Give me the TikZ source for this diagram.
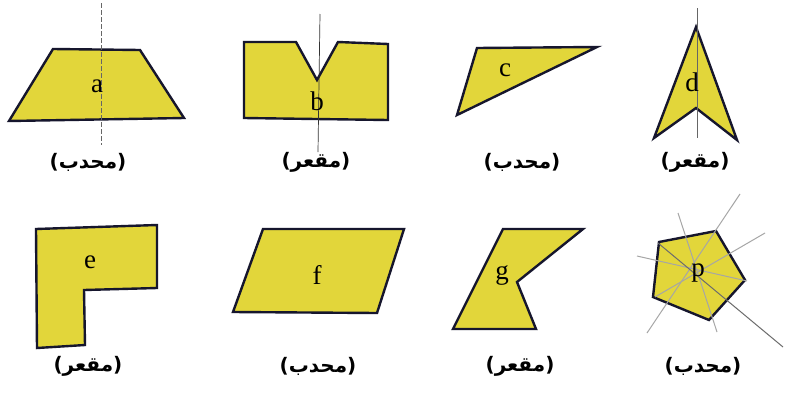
\documentclass[tikz,border=0pt]{standalone}
\usepackage{fontspec}
\TeXXeTstate=1
\newfontfamily\arabicfont[Script=Arabic]{DejaVu Sans}
\newfontfamily\letterfont{Liberation Serif}
\begin{document}
\begin{tikzpicture}[x=1pt,y=-1pt,
  shp/.style={fill=shapeyellow,draw=outline,line width=2.4pt,line join=miter},
  letter/.style={font=\letterfont\fontsize{27}{29}\selectfont},
  lbl/.style={font=\arabicfont\bfseries\fontsize{20}{22}\selectfont},
  axis/.style={draw=gray!80!black,line width=0.7pt},
  ray/.style={draw=gray!70,line width=1pt}]
\definecolor{shapeyellow}{RGB}{226,214,58}
\definecolor{outline}{RGB}{22,22,45}
\useasboundingbox (0,0) rectangle (787,394);
\fill[white] (0,0) rectangle (787,394);
% a
\draw[shp] (53,49) -- (140,50) -- (184,118) -- (9,121) -- cycle;
\draw[axis,dashed,dash pattern=on 5pt off 2pt] (101,3) -- (101,145);
\node[letter] (la) at (97,86) {a};
% b
\draw[shp] (244,42) -- (296,42) -- (317,80) -- (338,42) -- (388,44) -- (388,120) -- (244,118) -- cycle;
\draw[axis,draw=black!80] (320,14) -- (318,152);
\node[letter] (lb) at (317,101) {b};
% c
\draw[shp] (477,48) -- (597,47) -- (457,115) -- cycle;
\node[letter] (lc) at (505,70) {c};
% d
\draw[shp] (696,27) -- (737,140) -- (696,108) -- (654,138) -- cycle;
\draw[axis] (697,8) -- (697,138);
\node[letter] (ld) at (692,82) {d};
% e
\draw[shp] (36,229) -- (157,225) -- (157,288) -- (84,290) -- (85,345) -- (37,348) -- cycle;
\node[letter] (le) at (90,262) {e};
% f
\draw[shp] (263,229) -- (404,229) -- (377,313) -- (233,312) -- cycle;
\node[letter] (lf) at (317,275) {f};
% g
\draw[shp] (503,229) -- (583,229) -- (517,282) -- (536,329) -- (453,329) -- cycle;
\node[letter] (lg) at (502,275) {g};
% p
\draw[shp] (659,242) -- (716,231) -- (745,280) -- (709,320) -- (653,297) -- cycle;
\coordinate (pc) at (693,270);
\draw[ray] (637,256) -- (747,281);
\draw[ray] (678,213) -- (717,332);
\draw[ray] (740,194) -- (647,333);
\draw[ray] (765,233) -- (655,297);
\draw[ray,draw=gray!85!black] (658,243) -- (783,347);
\node[letter] (lp) at (698,273) {p};
% captions
\node[lbl] (ca) at (88,162) {\beginR(محدب)\endR};
\node[lbl] (cb) at (316,162) {\beginR(مقعر)\endR};
\node[lbl] (cc) at (522,162) {\beginR(محدب)\endR};
\node[lbl] (cd) at (695,162) {\beginR(مقعر)\endR};
\node[lbl] (ce) at (88,366) {\beginR(مقعر)\endR};
\node[lbl] (cf) at (318,366) {\beginR(محدب)\endR};
\node[lbl] (cg) at (520,366) {\beginR(مقعر)\endR};
\node[lbl] (cp) at (703,366) {\beginR(محدب)\endR};
\end{tikzpicture}
\end{document}
